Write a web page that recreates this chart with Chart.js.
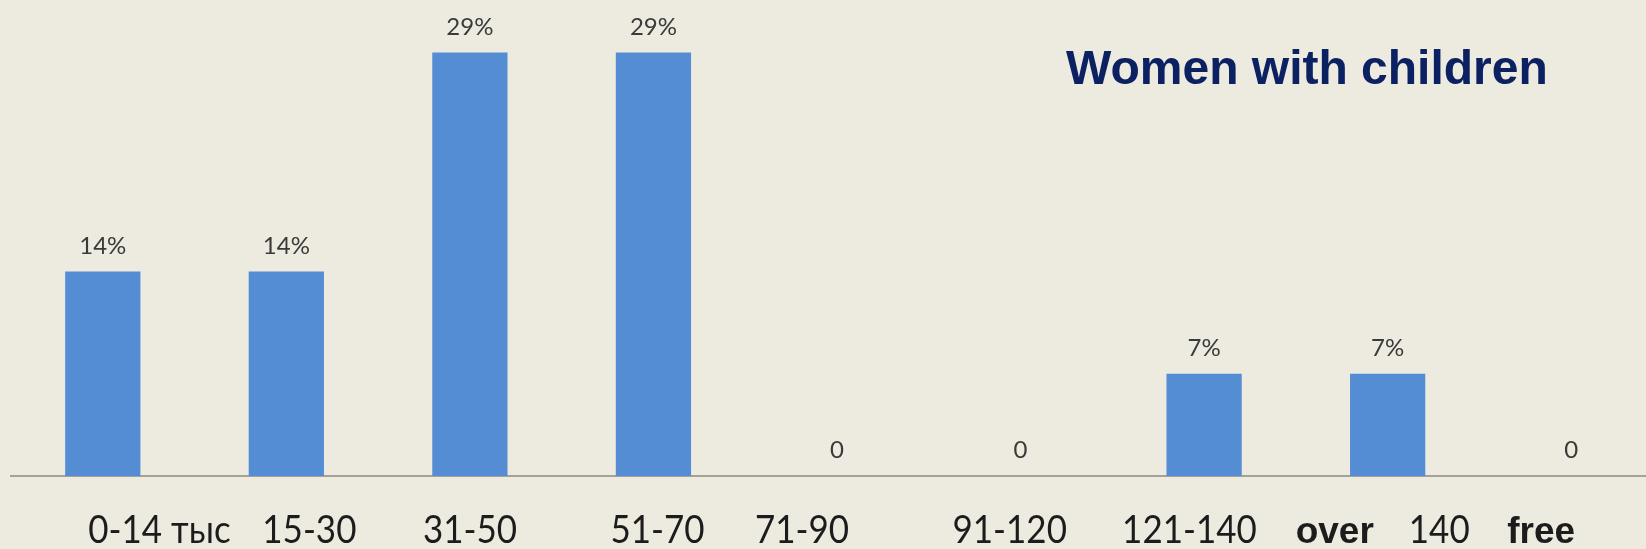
<!DOCTYPE html>
<html>
<head>
<meta charset="utf-8">
<script src="https://cdn.jsdelivr.net/npm/chart.js@4/dist/chart.umd.min.js"></script>
<style>
  html, body { margin: 0; padding: 0; background: #edeae0; overflow: hidden; }
  #wrap { width: 1663px; height: 549px; }
</style>
</head>
<body>
<div id="wrap"><canvas id="chart"></canvas></div>
<script>
const categories = ["0-14 тыс", "15-30", "31-50", "51-70", "71-90", "91-120", "121-140", "over 140", "free"];
const shares = [14, 14, 29, 29, 0, 0, 7, 7, 0];
const chartTitle = "Women with children";
const boldWords = ["over", "free"];

const COLORS = {
  bg: "#edeae0",
  bar: "#558dd5",
  axis: "#a3a198",
  value: "#3a3a3a",
  label: "#1c1c1c",
  title: "#0c2161"
};

// left edge of each category label, relative to its bar centre
const LABEL_DX = [-14.5, -24, -47, -43, -82, -68, -82, -92, -64];
const NARROW = 0.92; // the original labels are set in a narrower face

const decorations = {
  id: "decorations",
  afterDatasetsDraw(chart) {
    const ctx = chart.ctx;
    const meta = chart.getDatasetMeta(0);
    const x = chart.scales.x;

    ctx.save();
    // values above the bars
    ctx.fillStyle = COLORS.value;
    ctx.font = "24px Lato";
    ctx.textAlign = "center";
    ctx.textBaseline = "alphabetic";
    meta.data.forEach((bar, i) => {
      const v = shares[i];
      ctx.fillText(v === 0 ? "0" : v + "%", bar.x, bar.y - 18);
    });

    // category labels under the axis
    ctx.textAlign = "left";
    ctx.fillStyle = COLORS.label;
    categories.forEach((label, i) => {
      let px = x.getPixelForValue(i) + LABEL_DX[i];
      const words = label.split(" ");
      const mixed = words.some(w => boldWords.includes(w));
      if (!mixed) {
        ctx.font = "38px Lato";
        ctx.fillText(label, px, 543, ctx.measureText(label).width * NARROW);
        return;
      }
      words.forEach(w => {
        const bold = boldWords.includes(w);
        ctx.font = bold ? "bold 37px 'Liberation Sans'" : "38px Lato";
        const wdt = ctx.measureText(w).width * (bold ? 1 : NARROW);
        ctx.fillText(w, px, 543, wdt);
        px += wdt + 35;
      });
    });

    // title
    ctx.fillStyle = COLORS.title;
    ctx.font = "bold 48px 'Liberation Sans'";
    ctx.fillText(chartTitle, 1066, 84);
    ctx.restore();
  }
};

new Chart(document.getElementById("chart"), {
  type: "bar",
  data: {
    labels: categories,
    datasets: [{
      data: shares,
      backgroundColor: COLORS.bar,
      borderWidth: 0,
      categoryPercentage: 1,
      barPercentage: 0.41
    }]
  },
  options: {
    responsive: true,
    maintainAspectRatio: false,
    animation: false,
    layout: { padding: { left: 11, right: 0, top: 0, bottom: 73 } },
    plugins: {
      legend: { display: false },
      tooltip: { enabled: false }
    },
    scales: {
      x: {
        grid: { display: false, drawTicks: false },
        ticks: { display: false },
        border: { display: true, color: COLORS.axis, width: 2 }
      },
      y: {
        display: false,
        min: 0,
        max: 32.6
      }
    }
  },
  plugins: [decorations]
});
</script>
</body>
</html>
